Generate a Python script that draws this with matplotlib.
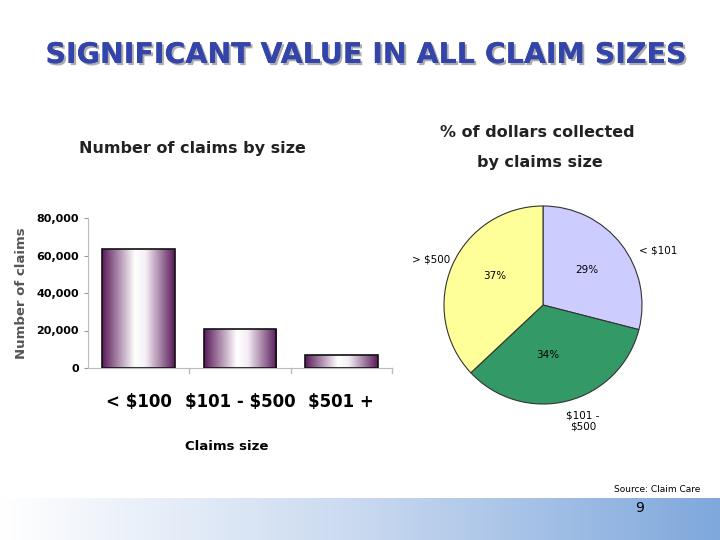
import matplotlib
matplotlib.use("Agg")
import matplotlib.pyplot as plt
import numpy as np
from matplotlib.colors import LinearSegmentedColormap
import matplotlib.patheffects as pe

plt.rcParams["text.usetex"] = False
plt.rcParams["text.parse_math"] = False

categories = ["< $100", "$101 - $500", "$501 +"]
claims = [63500, 21000, 7000]
pie_labels = ["< $101", "$101 -\n$500", "> $500"]
pie_pcts = [29, 34, 37]
pie_colors = ["#ccccff", "#339966", "#ffff99"]

W, H = 720, 540
fig = plt.figure(figsize=(W/100, H/100), dpi=100)
fig.patch.set_facecolor("white")

def fx(x): return x / W
def fy(y): return 1 - y / H

band = fig.add_axes([0, 0, 1, 42/H])
grad = np.linspace(0, 1, 256).reshape(1, -1)
bcmap = LinearSegmentedColormap.from_list("b", ["#ffffff", "#c9d9f0", "#7fa8dc"])
band.imshow(grad, aspect="auto", cmap=bcmap, extent=[0, 1, 0, 1])
band.axis("off")
band.text(0.888, 0.75, "9", fontsize=10, ha="center", va="center")
fig.text(fx(700), fy(489), "Source: Claim Care", fontsize=6.5, ha="right", va="center")

fig.text(fx(366), fy(55), "SIGNIFICANT VALUE IN ALL CLAIM SIZES", fontsize=20.5, weight="bold",
         color="#3344aa", ha="center", va="center",
         path_effects=[pe.withSimplePatchShadow(offset=(1.5, -1.5), shadow_rgbFace="#999999", alpha=0.8), pe.Normal()])

fig.text(fx(192), fy(149), "Number of claims by size", fontsize=11.5, weight="semibold", ha="center", va="center", color="#222222")
fig.text(fx(537), fy(133), "% of dollars collected", fontsize=11.5, weight="semibold", ha="center", va="center", color="#222222")
fig.text(fx(540), fy(162), "by claims size", fontsize=11.5, weight="semibold", ha="center", va="center", color="#222222")

ax = fig.add_axes([fx(88), fy(368), fx(392-88), (368-218)/H])
bars = ax.bar(range(3), claims, width=0.72, edgecolor="#111111", linewidth=1.2, facecolor="none", zorder=3)
cmap = LinearSegmentedColormap.from_list("p", [(0, "#5a1a5a"), (0.45, "#ffffff"), (0.6, "#f4eef4"), (1, "#5a1a5a")])
g = np.linspace(0, 1, 256).reshape(1, -1)
for b in bars:
    im = ax.imshow(g, aspect="auto", cmap=cmap, extent=[b.get_x(), b.get_x()+b.get_width(), 0, b.get_height()], zorder=2)
    im.set_clip_path(b)
ax.set_xlim(-0.5, 2.5)
ax.set_ylim(0, 80000)
ax.set_yticks([0, 20000, 40000, 60000, 80000])
ax.set_yticklabels(["0", "20,000", "40,000", "60,000", "80,000"], fontsize=8, weight="bold")
ax.set_xticks([0, 1, 2])
ax.set_xticklabels(categories, fontsize=12, weight="bold")
ax.tick_params(axis="x", length=0, pad=18)
ax.tick_params(axis="y", length=3, color="#999999")
for s in ["top", "right"]:
    ax.spines[s].set_visible(False)
ax.spines["left"].set_color("#bbbbbb")
ax.spines["bottom"].set_color("#bbbbbb")
for xv in [0.5, 1.5, 2.5]:
    ax.plot([xv, xv], [0, -2500], color="#bbbbbb", lw=1, clip_on=False)
ax.set_ylabel("Number of claims", fontsize=9.5, weight="bold", color="#555555", labelpad=6)
fig.text(fx(227), fy(447), "Claims size", fontsize=9.5, weight="bold", ha="center", va="center")

pax = fig.add_axes([fx(443), fy(405), 200/W, 200/H])
pax.pie(pie_pcts, colors=pie_colors, startangle=90, counterclock=False, radius=1,
        wedgeprops=dict(edgecolor="#333333", linewidth=0.8))
pax.set_xlim(-1.01, 1.01)
pax.set_ylim(-1.01, 1.01)
pax.set_aspect("equal")
fig.text(fx(587), fy(270), "29%", fontsize=7.5, ha="center", va="center")
fig.text(fx(548), fy(355), "34%", fontsize=7.5, ha="center", va="center")
fig.text(fx(495), fy(276), "37%", fontsize=7.5, ha="center", va="center")
fig.text(fx(658), fy(250), pie_labels[0], fontsize=7.5, ha="center", va="center")
fig.text(fx(583), fy(421), pie_labels[1], fontsize=7.5, ha="center", va="center")
fig.text(fx(431), fy(259), pie_labels[2], fontsize=7.5, ha="center", va="center")

fig.savefig("out.png", dpi=100)
